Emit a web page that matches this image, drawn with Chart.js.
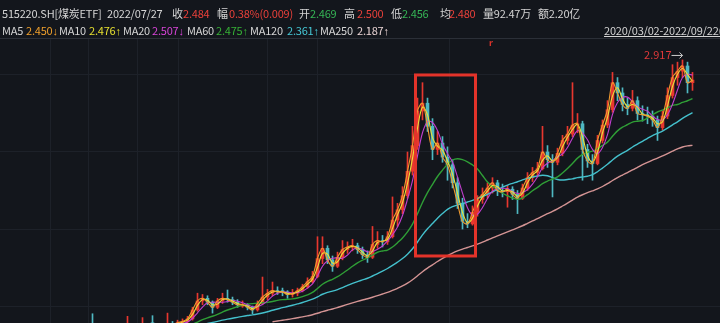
<!DOCTYPE html>
<html>
<head>
<meta charset="utf-8">
<script src="https://cdn.jsdelivr.net/npm/chart.js@4.4.1/dist/chart.umd.min.js"></script>
<style>
  body { margin: 0; background: #13161c; }
  #wrap { position: relative; width: 720px; height: 323px; overflow: hidden; background: #13161c; }
  #chart { position: absolute; left: 0; top: 0; width: 720px; height: 323px; }
  .h { position: absolute; white-space: nowrap; font-family: "Noto Sans CJK SC", "Noto Sans", sans-serif;
       font-size: 11px; line-height: 14px; color: #d4d4d4; letter-spacing: -0.2px; }
  .h i { font-style: normal; font-family: "Liberation Sans", sans-serif; }
  .r1 { top: 6px; }
  .r2 { top: 23px; }
  .red { color: #e8403a; }
  .grn { color: #35b455; }
</style>
</head>
<body>
<div id="wrap">
  <canvas id="chart"></canvas>

  <span class="h r1" style="left:2px">515220.SH[煤炭ETF]</span>
  <span class="h r1" style="left:107px">2022/07/27</span>
  <span class="h r1" style="left:172px">收</span>
  <span class="h r1 red" style="left:183px">2.484</span>
  <span class="h r1" style="left:217px">幅</span>
  <span class="h r1 red" style="left:229px">0.38%(0.009)</span>
  <span class="h r1" style="left:299px">开</span>
  <span class="h r1 grn" style="left:310px">2.469</span>
  <span class="h r1" style="left:344px">高</span>
  <span class="h r1 red" style="left:357px">2.500</span>
  <span class="h r1" style="left:391px">低</span>
  <span class="h r1 grn" style="left:402px">2.456</span>
  <span class="h r1" style="left:440px">均</span>
  <span class="h r1 red" style="left:449px">2.480</span>
  <span class="h r1" style="left:483px">量92.47万</span>
  <span class="h r1" style="left:538px">额2.20亿</span>

  <span class="h r2" style="left:2px">MA5</span>
  <span class="h r2" style="left:26px;color:#f0a02c">2.450<i>↓</i></span>
  <span class="h r2" style="left:59px">MA10</span>
  <span class="h r2" style="left:89px;color:#e6e030">2.476<i>↑</i></span>
  <span class="h r2" style="left:123px">MA20</span>
  <span class="h r2" style="left:152px;color:#d844d8">2.507<i>↓</i></span>
  <span class="h r2" style="left:187px">MA60</span>
  <span class="h r2" style="left:216px;color:#36b036">2.475<i>↑</i></span>
  <span class="h r2" style="left:250px">MA120</span>
  <span class="h r2" style="left:287px;color:#46c8d6">2.361<i>↑</i></span>
  <span class="h r2" style="left:320px">MA250</span>
  <span class="h r2" style="left:357px;color:#ecd6d6">2.187<i>↑</i></span>
  <span class="h r2" style="left:604px;text-decoration:underline">2020/03/02-2022/09/22(前</span>
</div>

<script>
// candles, each one about 4-5 trading days of 515220.SH, 2020/03/02 - 2022/09/22
const opens = [
  0.82,0.80,0.78,0.76,0.75,0.74,0.76,0.75,0.74,0.75,0.76,0.75,0.77,0.76,0.78,0.79,0.80,0.81,
  0.86,0.84,0.83,0.82,0.81,0.82,0.83,0.84,0.85,0.83,0.82,0.84,0.87,0.85,0.83,0.84,0.86,0.85,0.87,0.88,
  0.90,0.97,1.04,1.06,1.03,0.99,1.04,1.06,1.05,1.03,1.00,1.01,0.99,0.97,1.02,1.07,1.10,1.12,1.12,1.11,1.09,1.10,
  1.12,1.15,1.19,1.23,1.37,1.45,1.36,1.31,1.38,1.44,1.46,1.47,1.44,1.40,1.38,1.48,1.51,1.50,1.54,1.67,1.75,1.86,2.05,2.25,2.52,
  2.58,2.40,2.22,2.27,2.16,2.10,1.96,1.80,1.66,1.64,1.73,1.83,1.87,1.92,1.96,1.90,1.89,1.91,1.87,1.84,1.92,2.00,2.04,2.07,2.20,2.14,
  2.12,2.19,2.29,2.34,2.41,2.42,2.22,2.13,2.11,2.29,2.41,2.53,2.74,2.66,2.57,2.54,2.60,2.50,2.49,2.48,2.45,2.39,2.48,2.64,2.78,2.83,2.87,2.74
];
const highs = [
  0.83,0.81,0.79,0.77,0.76,0.77,0.77,0.76,0.76,0.77,0.77,0.78,0.78,0.79,0.80,0.81,0.82,0.84,
  0.94,0.85,0.84,0.83,0.83,0.84,0.86,0.92,0.86,0.84,0.91,0.85,0.925,0.86,0.86,0.945,0.88,0.89,0.90,0.92,
  0.99,1.10,1.09,1.08,1.04,1.06,1.10,1.125,1.07,1.05,1.04,1.02,1.00,1.04,1.226,1.13,1.187,1.15,1.14,1.12,1.13,1.14,
  1.17,1.22,1.27,1.54,1.54,1.47,1.39,1.42,1.51,1.50,1.52,1.49,1.46,1.43,1.62,1.58,1.55,1.58,1.85,1.80,1.93,2.20,2.40,2.62,2.74,
  2.62,2.46,2.36,2.32,2.24,2.14,2.00,1.84,1.72,1.78,1.86,1.92,1.96,2.00,1.98,1.95,1.94,1.93,1.90,1.95,2.04,2.08,2.12,2.40,2.25,2.18,
  2.23,2.33,2.40,2.74,2.50,2.44,2.26,2.18,2.33,2.45,2.60,2.82,2.78,2.70,2.62,2.68,2.63,2.56,2.55,2.52,2.48,2.52,2.70,2.88,2.90,2.917,2.90,2.82
];
const lows = [
  0.79,0.77,0.75,0.74,0.73,0.73,0.74,0.73,0.73,0.74,0.74,0.74,0.75,0.75,0.77,0.78,0.79,0.80,
  0.82,0.82,0.81,0.80,0.80,0.81,0.82,0.83,0.82,0.81,0.81,0.82,0.82,0.82,0.82,0.83,0.84,0.84,0.86,0.87,
  0.89,0.96,1.01,1.01,0.945,0.98,1.02,1.03,1.01,0.99,0.99,0.97,0.94,0.96,1.01,1.05,1.08,1.09,1.08,1.06,1.07,1.08,
  1.11,1.14,1.18,1.22,1.33,1.33,1.27,1.30,1.36,1.41,1.43,1.41,1.37,1.34,1.37,1.45,1.46,1.48,1.53,1.62,1.72,1.84,2.02,2.22,2.45,
  2.36,2.14,2.18,2.12,1.98,1.92,1.76,1.60,1.61,1.63,1.70,1.80,1.84,1.88,1.86,1.85,1.77,1.83,1.72,1.83,1.90,1.97,2.01,2.06,2.08,1.85,
  2.10,2.17,2.26,2.32,2.35,1.98,2.08,1.98,2.10,2.27,2.39,2.51,2.60,2.52,2.49,2.52,2.45,2.44,2.42,2.40,2.29,2.37,2.46,2.62,2.72,2.78,2.66,2.68
];
const closes = [
  0.80,0.78,0.76,0.75,0.74,0.76,0.75,0.74,0.75,0.76,0.75,0.77,0.76,0.78,0.79,0.80,0.81,0.82,
  0.84,0.83,0.82,0.81,0.82,0.83,0.84,0.85,0.83,0.82,0.84,0.83,0.85,0.83,0.84,0.86,0.85,0.87,0.88,0.90,
  0.97,1.04,1.06,1.03,0.99,1.04,1.06,1.05,1.03,1.01,1.01,0.99,0.97,1.02,1.07,1.10,1.12,1.11,1.11,1.09,1.10,1.12,
  1.15,1.19,1.23,1.37,1.45,1.36,1.31,1.38,1.44,1.46,1.47,1.44,1.40,1.38,1.48,1.51,1.50,1.54,1.67,1.75,1.86,2.05,2.25,2.52,2.58,
  2.40,2.22,2.27,2.16,2.10,1.96,1.80,1.66,1.64,1.73,1.83,1.87,1.92,1.96,1.90,1.89,1.91,1.87,1.84,1.92,2.00,2.04,2.07,2.20,2.14,2.12,
  2.19,2.29,2.34,2.41,2.42,2.22,2.13,2.11,2.29,2.41,2.53,2.74,2.66,2.57,2.54,2.60,2.50,2.49,2.48,2.45,2.39,2.48,2.64,2.78,2.83,2.87,2.74,2.76
];

// moving averages: name, span in candles (~4.5 days each), colour
const maNames  = ['MA5', 'MA10', 'MA20', 'MA60', 'MA120', 'MA250'];
const maSpans  = [1, 2, 4, 13, 27, 55];
const maColors = ['#f29a2e', '#e8e23a', '#c23fcf', '#2f9e36', '#44c0cc', '#d49494'];

// price grid and the vertical separators
const yGrid = [1.0, 1.6, 2.2, 2.8];
const xGrid = [9.5, 17.1, 26.9, 35.1, 52.9, 62.9, 89.3];

// highlighted range (candle index / price)
const boxFrom = 82.6, boxTo = 94.6, boxTop = 2.80, boxBottom = 1.39;

const upColor = '#e8372f';
const downColor = '#4fb8c2';

function movingAvg(src, n) {
    return src.map((v, i) => {
        if (i < n - 1) return null;
        let s = 0;
        for (let k = i - n + 1; k <= i; k++) s += src[k];
        return s / n;
    });
}

const candleColor = ctx => closes[ctx.dataIndex] >= opens[ctx.dataIndex] ? upColor : downColor;

const maDatasets = maNames.map((name, m) => ({
    type: 'line',
    label: name,
    data: movingAvg(closes, maSpans[m]).map((v, i) => ({ x: i, y: v })),
    borderColor: maColors[m],
    borderWidth: m < 3 ? 1.1 : 1.4,
    pointRadius: 0,
    tension: 0.35,
    order: m
}));

const overlay = {
    id: 'overlay',
    afterDatasetsDraw(chart) {
        const { ctx, chartArea, scales: { x, y } } = chart;
        ctx.save();
        // top frame line
        ctx.strokeStyle = '#2b2f37';
        ctx.lineWidth = 1;
        ctx.beginPath();
        ctx.moveTo(0, chartArea.top + 0.5);
        ctx.lineTo(chart.width, chartArea.top + 0.5);
        ctx.stroke();

        // red box
        const bx0 = x.getPixelForValue(boxFrom), bx1 = x.getPixelForValue(boxTo);
        const by0 = y.getPixelForValue(boxTop), by1 = y.getPixelForValue(boxBottom);
        ctx.strokeStyle = '#e3332a';
        ctx.lineWidth = 3;
        ctx.strokeRect(bx0, by0, bx1 - bx0, by1 - by0);

        // highest price marker
        let hi = 0;
        highs.forEach((v, i) => { if (v > highs[hi]) hi = i; });
        const px = x.getPixelForValue(hi), py = y.getPixelForValue(highs[hi]) - 5;
        ctx.strokeStyle = '#cfcfcf';
        ctx.lineWidth = 1;
        ctx.beginPath();
        ctx.moveTo(px - 11, py + 0.5);
        ctx.lineTo(px, py + 0.5);
        ctx.moveTo(px - 3, py - 2.5);
        ctx.lineTo(px, py + 0.5);
        ctx.lineTo(px - 3, py + 3.5);
        ctx.stroke();
        ctx.fillStyle = '#e0393a';
        ctx.font = '11px "Noto Sans CJK SC", sans-serif';
        ctx.textAlign = 'right';
        ctx.textBaseline = 'middle';
        ctx.fillText(highs[hi].toFixed(3), px - 11, py);

        // small flag on top
        ctx.fillStyle = '#d8322a';
        ctx.font = 'bold 9px "Noto Sans", sans-serif';
        ctx.textAlign = 'left';
        ctx.fillText('r', 489, chartArea.top + 5);
        ctx.restore();
    }
};

new Chart(document.getElementById('chart'), {
    type: 'bar',
    data: {
        datasets: [
            ...maDatasets,
            {
                label: 'body',
                data: closes.map((c, i) => ({ x: i, y: [opens[i], c] })),
                backgroundColor: candleColor,
                barThickness: 3,
                minBarLength: 1,
                grouped: false,
                order: 6
            },
            {
                label: 'wick',
                data: closes.map((c, i) => ({ x: i, y: [lows[i], highs[i]] })),
                backgroundColor: candleColor,
                barThickness: 1,
                grouped: false,
                order: 7
            }
        ]
    },
    options: {
        responsive: true,
        maintainAspectRatio: false,
        animation: false,
        layout: { padding: { top: 38 } },
        plugins: {
            legend: { display: false },
            tooltip: { enabled: false }
        },
        scales: {
            x: {
                type: 'linear',
                offset: false,
                min: -0.5,
                max: 143.5,
                afterBuildTicks: s => { s.ticks = xGrid.map(v => ({ value: v })); },
                ticks: { display: false },
                grid: { color: '#1d2129', drawTicks: false, offset: false },
                border: { display: false }
            },
            y: {
                min: 0.868,
                max: 3.088,
                afterBuildTicks: s => { s.ticks = yGrid.map(v => ({ value: v })); },
                ticks: { display: false },
                grid: { color: '#1d2129', drawTicks: false },
                border: { display: false }
            }
        }
    },
    plugins: [overlay]
});
</script>
</body>
</html>
